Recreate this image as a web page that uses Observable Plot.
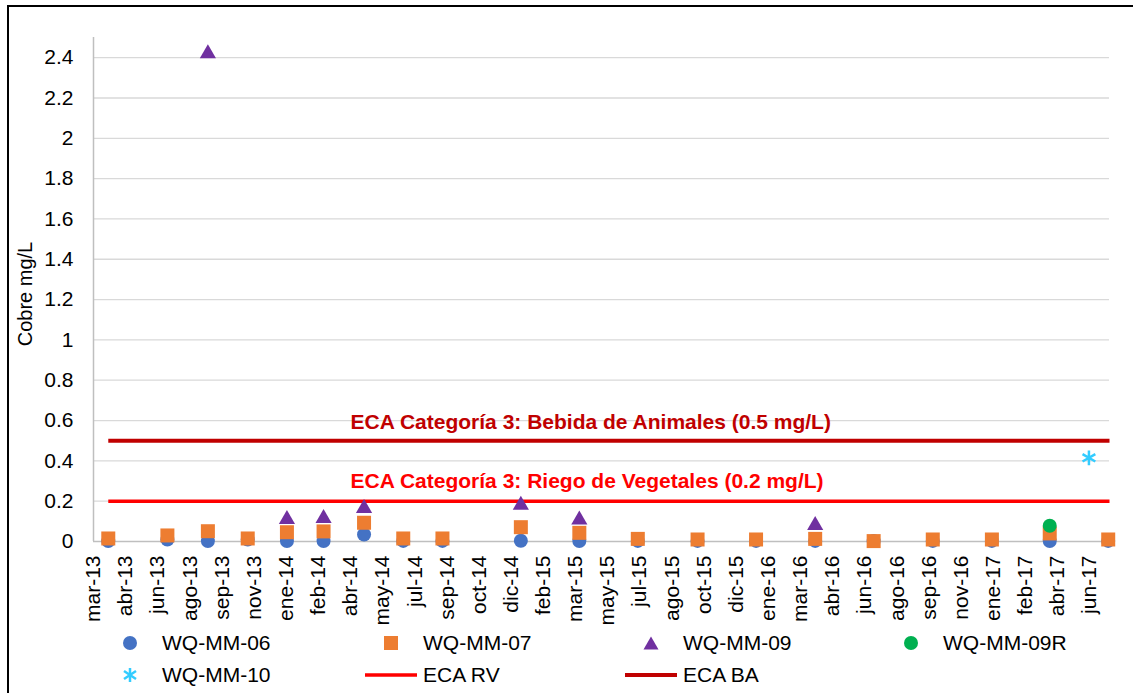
<!DOCTYPE html>
<html><head><meta charset="utf-8">
<script src="https://cdn.jsdelivr.net/npm/d3@7"></script>
<script src="https://cdn.jsdelivr.net/npm/@observablehq/plot@0.6"></script>
<style>
html,body{margin:0;padding:0;background:#fff;overflow:hidden;width:1133px;height:693px;}
#chart{position:absolute;left:0;top:0;}
#frame{position:absolute;left:7px;top:5px;width:1200px;height:800px;border-left:2px solid #000;border-top:2px solid #000;pointer-events:none;}
#ytitle{position:absolute;left:25px;top:294px;transform:translate(-50%,-50%) rotate(-90deg);font:20px Arial,"Liberation Sans",sans-serif;white-space:nowrap;color:#000;}
#legend{position:absolute;left:0;top:625px;width:1133px;height:68px;font:21px Arial,"Liberation Sans",sans-serif;color:#000;}
.item{position:absolute;display:flex;align-items:center;height:30px;white-space:nowrap;}
.item svg{width:52px;height:30px;display:block;}
.item span{margin-left:6px;}
</style></head>
<body>
<div id="chart"></div>
<div id="ytitle">Cobre mg/L</div>
<div id="legend"></div>
<div id="frame"></div>
<script>
// ---- data ----
const sampleDates = ["2013-03-30","2013-06-30","2013-09-01","2013-11-02","2014-01-02","2014-02-28","2014-05-02","2014-07-02","2014-09-01","2015-01-01","2015-04-02","2015-07-02","2015-10-03","2016-01-02","2016-04-03","2016-07-03","2016-10-03","2017-01-03","2017-04-03","2017-07-03"];
const mm06 = [0.002,0.01,0.002,0.01,0.002,0.002,0.035,0.003,0.003,0.004,0.002,0.003,0.003,0.003,0.003,0.002,0.003,0.003,0.002,0.003];
const mm07 = [0.015,0.03,0.051,0.015,0.046,0.05,0.093,0.015,0.015,0.071,0.043,0.013,0.01,0.01,0.013,0.002,0.01,0.01,0.04,0.01];
const mm09Dates = ["2013-09-01","2014-01-02","2014-02-28","2014-05-02","2015-01-01","2015-04-02","2016-04-03"];
const mm09 = [2.43,0.12,0.125,0.175,0.19,0.117,0.09];
const mm09RDates = ["2017-04-03"];
const mm09R = [0.078];
const mm10Dates = ["2017-06-03"];
const mm10 = [0.415];
const ecaDates = ["2013-03-30","2017-07-05"];
const ecaRV = 0.2;
const ecaBA = 0.5;
const ecaRVLabel = "ECA Categoría 3: Riego de Vegetales (0.2 mg/L)";
const ecaBALabel = "ECA Categoría 3: Bebida de Animales (0.5 mg/L)";
const ecaLabelDate = "2014-04-11";
const xStart = "2013-03-07";
const xEnd = "2017-07-05";
const xTickStepDays = 50;
const xTickLabels = ["mar-13","abr-13","jun-13","ago-13","sep-13","nov-13","ene-14","feb-14","abr-14","may-14","jul-14","sep-14","oct-14","dic-14","feb-15","mar-15","may-15","jul-15","ago-15","oct-15","dic-15","ene-16","mar-16","abr-16","jun-16","ago-16","sep-16","nov-16","ene-17","feb-17","abr-17","jun-17"];
const yTicks = [0,0.2,0.4,0.6,0.8,1,1.2,1.4,1.6,1.8,2,2.2,2.4];
const yMax = 2.5;
const seriesNames = ["WQ-MM-06","WQ-MM-07","WQ-MM-09","WQ-MM-09R","WQ-MM-10","ECA RV","ECA BA"];
const seriesColors = ["#4472C4","#ED7D31","#7030A0","#00B050","#33CCFF","#FF0000","#C00000"];

// ---- build tables ----
const P = s => new Date(s + "T00:00:00Z");
const t06 = sampleDates.map((d,i)=>({date:P(d), v:mm06[i]}));
const t07 = sampleDates.map((d,i)=>({date:P(d), v:mm07[i]}));
const t09 = mm09Dates.map((d,i)=>({date:P(d), v:mm09[i]}));
const t09R = mm09RDates.map((d,i)=>({date:P(d), v:mm09R[i]}));
const t10 = mm10Dates.map((d,i)=>({date:P(d), v:mm10[i]}));
const tRV = ecaDates.map(d=>({date:P(d), v:ecaRV}));
const tBA = ecaDates.map(d=>({date:P(d), v:ecaBA}));
const x0 = P(xStart);
const xTicks = xTickLabels.map((l,i)=>d3.utcDay.offset(x0, i*xTickStepDays));
const labelByTime = new Map(xTicks.map((d,i)=>[+d, xTickLabels[i]]));
const fmtY = d => String(Math.round(d*10)/10);
const FONT = 'Arial, "Liberation Sans", sans-serif';

const chart = Plot.plot({
  width: 1133, height: 625,
  marginLeft: 93, marginRight: 24, marginTop: 37, marginBottom: 84,
  style: {fontFamily: FONT, fontSize: "21px", color: "#000", background: "transparent", overflow: "visible"},
  x: {type: "utc", domain: [x0, P(xEnd)]},
  y: {domain: [0, yMax]},
  marks: [
    Plot.ruleY(yTicks.filter(d => d > 0), {stroke: "#D9D9D9", strokeWidth: 1.3, strokeOpacity: 1}),
    Plot.ruleY([0], {stroke: "#BFBFBF", strokeWidth: 1.5, strokeOpacity: 1}),
    Plot.ruleX([x0], {stroke: "#BFBFBF", strokeWidth: 1.5, strokeOpacity: 1}),
    Plot.axisY({ticks: yTicks, tickFormat: fmtY, tickSize: 0, tickPadding: 20, label: null, fontSize: 21}),
    Plot.axisX({ticks: xTicks, tickFormat: d => labelByTime.get(+d), tickSize: 0, tickPadding: 14, tickRotate: -90, label: null, fontSize: 21}),
    Plot.line(tRV, {x: "date", y: "v", stroke: seriesColors[5], strokeWidth: 3.5, strokeLinecap: "butt"}),
    Plot.line(tBA, {x: "date", y: "v", stroke: seriesColors[6], strokeWidth: 4, strokeLinecap: "butt"}),
    Plot.dot(t06, {x: "date", y: "v", r: 7, fill: seriesColors[0], stroke: "none"}),
    Plot.dot(t07, {x: "date", y: "v", r: 7.9, symbol: "square", fill: seriesColors[1], stroke: "none"}),
    Plot.dot(t09, {x: "date", y: "v", r: 6, symbol: "triangle", fill: seriesColors[2], stroke: "none", dy: 2}),
    Plot.dot(t09R, {x: "date", y: "v", r: 7, fill: seriesColors[3], stroke: "none"}),
    Plot.dot(t10, {x: "date", y: "v", r: 7, symbol: "asterisk", stroke: seriesColors[4], strokeWidth: 2.5, fill: "none"}),
    Plot.text([ecaBALabel], {x: () => P(ecaLabelDate), y: () => ecaBA, text: d => d, textAnchor: "start", dy: -18, fill: seriesColors[6], fontWeight: "bold", fontSize: 21}),
    Plot.text([ecaRVLabel], {x: () => P(ecaLabelDate), y: () => ecaRV, text: d => d, textAnchor: "start", dy: -19.5, fill: seriesColors[5], fontWeight: "bold", fontSize: 21})
  ]
});
document.getElementById("chart").appendChild(chart);

// ---- legend ----
const markers = [
  c => `<circle cx="26" cy="15" r="7" fill="${c}"/>`,
  c => `<rect x="19" y="8" width="14" height="14" fill="${c}"/>`,
  c => `<polygon points="18.5,21.5 33.5,21.5 26,8.5" fill="${c}"/>`,
  c => `<circle cx="26" cy="15" r="7" fill="${c}"/>`,
  c => `<g stroke="${c}" stroke-width="2.5"><line x1="26" y1="8" x2="26" y2="22"/><line x1="20" y1="11" x2="32" y2="19"/><line x1="20" y1="19" x2="32" y2="11"/></g>`,
  c => `<line x1="0" y1="15" x2="52" y2="15" stroke="${c}" stroke-width="3.5"/>`,
  c => `<line x1="0" y1="15" x2="52" y2="15" stroke="${c}" stroke-width="4"/>`
];
const colX = [104, 365, 625, 885];
const rowY = [3, 35];
const legend = document.getElementById("legend");
seriesNames.forEach((name, i) => {
  const div = document.createElement("div");
  div.className = "item";
  div.style.left = colX[i % 4] + "px";
  div.style.top = rowY[Math.floor(i / 4)] + "px";
  div.innerHTML = `<svg viewBox="0 0 52 30">${markers[i](seriesColors[i])}</svg><span>${name}</span>`;
  legend.appendChild(div);
});
</script>
</body></html>
